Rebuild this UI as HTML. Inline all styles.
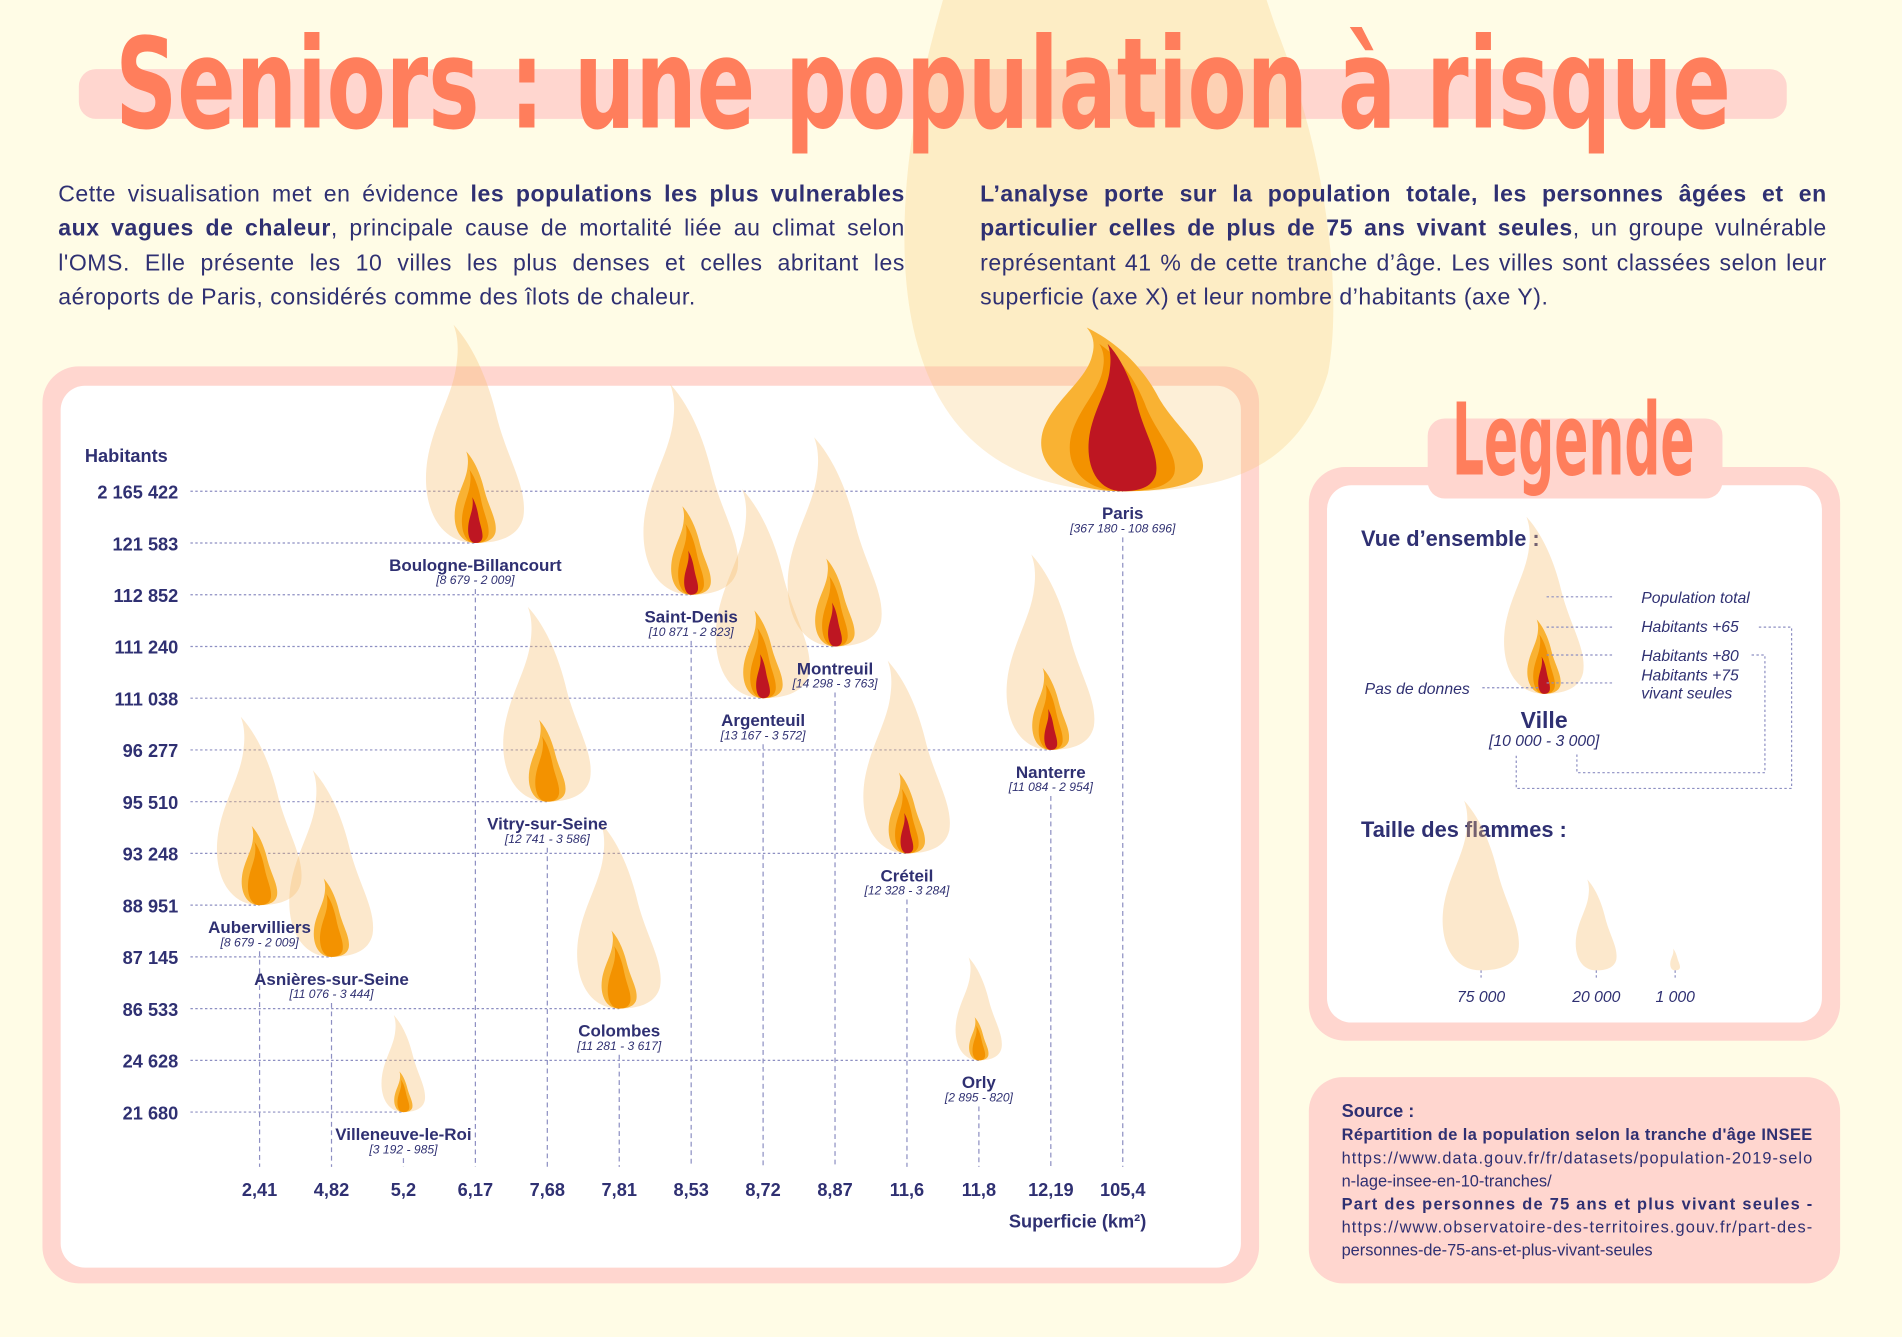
<!DOCTYPE html>
<html><head><meta charset="utf-8">
<style>
html,body{margin:0;padding:0;background:#fffce6;}
body{width:1902px;height:1336px;overflow:hidden;position:relative;}
#wrap{position:absolute;left:0;top:0;width:1568px;height:1102px;transform:scale(1.2130);transform-origin:0 0;font-family:"Liberation Sans",sans-serif;color:#2f3072;}
svg{position:absolute;left:0;top:0;}
.para{position:absolute;top:147px;width:698px;font-size:19px;line-height:28.3px;text-align:justify;letter-spacing:0.45px;}
.para b{font-weight:bold;}
</style></head>
<body>
<div id="wrap">
<svg id="chart" width="1568" height="1102" viewBox="0 0 1568 1102"></svg>
<div class="para" style="left:48px">Cette visualisation met en évidence <b>les populations les plus vulnerables aux vagues de chaleur</b>, principale cause de mortalité liée au climat selon l'OMS. Elle présente les 10 villes les plus denses et celles abritant les aéroports de Paris, considérés comme des îlots de chaleur.</div>
<div class="para" style="left:808px"><b>L’analyse porte sur la population totale, les personnes âgées et en particulier celles de plus de 75 ans vivant seules</b>, un groupe vulnérable représentant 41 % de cette tranche d’âge. Les villes sont classées selon leur superficie (axe X) et leur nombre d’habitants (axe Y).</div>
</div>
<script>
// ---- data ----
const xCats = ['2,41','4,82','5,2','6,17','7,68','7,81','8,53','8,72','8,87','11,6','11,8','12,19','105,4'];
const yTicks = ['2 165 422','121 583','112 852','111 240','111 038','96 277','95 510','93 248','88 951','87 145','86 533','24 628','21 680'];
const cityNames = ['Paris','Boulogne-Billancourt','Saint-Denis','Montreuil','Argenteuil','Nanterre','Vitry-sur-Seine','Créteil','Aubervilliers','Asnières-sur-Seine','Colombes','Orly','Villeneuve-le-Roi'];
const cityArea = ['105,4','6,17','8,53','8,87','8,72','12,19','7,68','11,6','2,41','4,82','7,81','11,8','5,2'];
const cityPop = [2165422,121583,112852,111240,111038,96277,95510,93248,88951,87145,86533,24628,21680];
const cityOver65 = ['367 180','8 679','10 871','14 298','13 167','11 084','12 741','12 328','8 679','11 076','11 281','2 895','3 192'];
const cityAlone75 = ['108 696','2 009','2 823','3 763','3 572','2 954','3 586','3 284','2 009','3 444','3 617','820','985'];
const cityHasRed = [1,1,1,1,1,1,0,1,0,0,0,0,0];
const legendSizes = [75000,20000,1000];
const legendSizeLabels = ['75 000','20 000','1 000'];

const NS='http://www.w3.org/2000/svg';
const svg=document.getElementById('chart');
function mk(tag,attrs,parent){const e=document.createElementNS(NS,tag);for(const k in attrs)e.setAttribute(k,attrs[k]);(parent||svg).appendChild(e);return e;}
function txt(s,attrs,parent){const e=mk('text',attrs,parent);e.textContent=s;return e;}
const NAVY='#2f3072', PINK='#ffd6cf', ORANGE_T='#ff7e5c';

const xScale=i=>214+i*59.3;
const yScale=i=>405+i*42.65;
const flameH=p=>0.733*Math.pow(p,0.47);
const FLAME='M0.5,1 C0.15,1 0.0,0.82 0.06,0.62 C0.12,0.44 0.3,0.32 0.33,0.17 C0.35,0.09 0.33,0.04 0.3,0 C0.52,0.12 0.64,0.3 0.7,0.43 C0.8,0.62 0.98,0.75 0.94,0.88 C0.9,0.97 0.72,1 0.5,1 Z';
const BIG='M0.5,1 C0.1,1 0.0,0.85 0.0,0.7 C0.0,0.5 0.15,0.35 0.2,0.2 C0.23,0.1 0.22,0.04 0.2,0 L0.65,0 C0.68,0.15 0.75,0.3 0.85,0.45 C0.98,0.62 1.0,0.78 0.97,0.86 C0.9,0.98 0.72,1 0.5,1 Z';
function flame(g,cx,by,w,h,fill,op,d){
  return mk('path',{d:d||FLAME,fill:fill,'fill-opacity':op||1,transform:`translate(${cx-w/2},${by-h}) scale(${w},${h})`},g);
}
function cityFlame(g,cx,by,h,red,big){
  if(big) flame(g,cx,by,360,h,'#f9c66f',0.28,BIG);
  else flame(g,cx,by,h*0.5,h,'#f7be6e',0.35);
  let ih=Math.min(h*0.42,135), iw=big?ih*1.1:ih*0.5;
  flame(g,cx,by,iw,ih,'#f9b233');
  flame(g,cx,by,iw*0.65,ih*(big?0.9:0.8),'#f39200');
  if(red) flame(g,cx,by,iw*(big?0.42:0.35),ih*(big?0.9:0.5),'#be1622');
}

const tb=mk('rect',{x:65,y:57,width:1408,height:41,rx:14,fill:PINK});



const cp=mk('rect',{x:35,y:302,width:1003,height:756,rx:30,fill:PINK});


mk('rect',{x:50,y:318,width:973,height:727,rx:20,fill:'#ffffff'});

const lp=mk('rect',{x:1079,y:385,width:438,height:473,rx:30,fill:PINK});


mk('rect',{x:1094,y:400,width:408,height:443,rx:20,fill:'#ffffff'});
mk('rect',{x:1177,y:345,width:243,height:66,rx:14,fill:PINK});

const sp=mk('rect',{x:1079,y:888,width:438,height:170,rx:28,fill:PINK});



const ha=txt('Habitants',{x:70,y:381,'font-size':15,'font-weight':'bold',fill:NAVY});


yTicks.forEach((t,i)=>{
  const e=txt(t,{x:147,y:yScale(i)+6,'font-size':15,'font-weight':'bold','text-anchor':'end',fill:NAVY});
  
  
});
xCats.forEach((t,i)=>{
  const e=txt(t,{x:xScale(i),y:986,'font-size':15,'font-weight':'bold','text-anchor':'middle',fill:NAVY});
  
  
});
const xt=txt('Superficie (km²)',{x:945,y:1012,'font-size':15,'font-weight':'bold','text-anchor':'end',fill:NAVY});



const gl=mk('g',{});
cityNames.forEach((n,k)=>{
  const xi=xCats.indexOf(cityArea[k]);
  const x=xScale(xi), y=yScale(k);
  const hl=mk('line',{x1:157,y1:y,x2:x,y2:y,stroke:'#8d8fc2','stroke-width':1,'stroke-dasharray':'2 2'},gl);
  
  
  const vl=mk('line',{x1:x,y1:y+38,x2:x,y2:962,stroke:'#8d8fc2','stroke-width':1,'stroke-dasharray':'4 3'},gl);
  
  
});

const fg=mk('g',{});
cityNames.forEach((n,k)=>{
  const xi=xCats.indexOf(cityArea[k]);
  const x=xScale(xi), y=yScale(k);
  const g=mk('g',{},fg);
  
  
  const h=flameH(cityPop[k]);
  cityFlame(g,x,y,h,cityHasRed[k],h>400);
});
cityNames.forEach((n,k)=>{
  const xi=xCats.indexOf(cityArea[k]);
  const x=xScale(xi), y=yScale(k);
  const l=txt(n,{x:x,y:y+23,'font-size':14,'font-weight':'bold','text-anchor':'middle',fill:NAVY});
  
  
  const s=txt('['+cityOver65[k]+' - '+cityAlone75[k]+']',{x:x,y:y+34,'font-size':10,'font-style':'italic','text-anchor':'middle',fill:NAVY});
  
  
});

const tt=txt('Seniors : une population à risque',{x:95,y:105,'font-size':104,'font-weight':'bold',fill:ORANGE_T,textLength:1332,lengthAdjust:'spacingAndGlyphs','font-family':'"DejaVu Sans","Liberation Sans",sans-serif'});


const lt=txt('Legende',{x:1197,y:391,'font-size':82,'font-weight':'bold',fill:ORANGE_T,textLength:200,lengthAdjust:'spacingAndGlyphs','font-family':'"DejaVu Sans","Liberation Sans",sans-serif'});



const lg=mk('g',{});


txt('Vue d’ensemble :',{x:1122,y:450,'font-size':18,'font-weight':'bold',fill:NAVY},lg);
cityFlame(lg,1273,572,146,1,false);
const dl={stroke:'#8d8fc2','stroke-width':1,'stroke-dasharray':'2 2',fill:'none'};
[[1275,492],[1275,517],[1275,540],[1275,563]].forEach(p=>mk('line',Object.assign({x1:p[0],y1:p[1],x2:1330,y2:p[1]},dl),lg));
mk('line',Object.assign({x1:1222,y1:567,x2:1268,y2:567},dl),lg);
mk('polyline',Object.assign({points:'1450,517 1477,517 1477,650 1250,650 1250,622'},dl),lg);
mk('polyline',Object.assign({points:'1444,540 1455,540 1455,637 1300,637 1300,622'},dl),lg);
const li={'font-size':13,'font-style':'italic',fill:NAVY};
txt('Population total',Object.assign({x:1353,y:497},li),lg);
txt('Habitants +65',Object.assign({x:1353,y:521},li),lg);
txt('Habitants +80',Object.assign({x:1353,y:545},li),lg);
txt('Habitants +75',Object.assign({x:1353,y:561},li),lg);
txt('vivant seules',Object.assign({x:1353,y:576},li),lg);
txt('Pas de donnes',Object.assign({x:1125,y:572},li),lg);
txt('Ville',{x:1273,y:600,'font-size':19,'font-weight':'bold','text-anchor':'middle',fill:NAVY},lg);
txt('[10 000 - 3 000]',{x:1273,y:615,'font-size':13,'font-style':'italic','text-anchor':'middle',fill:NAVY},lg);
txt('Taille des flammes :',{x:1122,y:690,'font-size':18,'font-weight':'bold',fill:NAVY},lg);
const lx=[1221,1316,1381];
legendSizes.forEach((v,i)=>{
  const h=v===75000?140:v===20000?75:18;
  flame(lg,lx[i],800,h*0.5,h,'#f7be6e',0.35);
  mk('line',{x1:lx[i],y1:800,x2:lx[i],y2:808,stroke:'#8d8fc2','stroke-dasharray':'2 2'},lg);
  txt(legendSizeLabels[i],{x:lx[i],y:826,'font-size':13,'font-style':'italic','text-anchor':'middle',fill:NAVY},lg);
});

const sg=mk('g',{});


txt('Source :',{x:1106,y:921,'font-size':15,'font-weight':'bold',fill:NAVY},sg);
const srcLines=[['Répartition de la population selon la tranche d\'âge INSEE',1],['https://www.data.gouv.fr/fr/datasets/population-2019-selo',0],['n-lage-insee-en-10-tranches/',0],['Part des personnes de 75 ans et plus vivant seules -',1],['https://www.observatoire-des-territoires.gouv.fr/part-des-',0],['personnes-de-75-ans-et-plus-vivant-seules',0]];
srcLines.forEach((l,i)=>{
  const a={x:1106,y:940+i*19,'font-size':13.5,'font-weight':l[1]?'bold':'normal',fill:NAVY};
  if(l[0].length>45){a.textLength=388;}
  txt(l[0],a,sg);
});
</script>
</body></html>
